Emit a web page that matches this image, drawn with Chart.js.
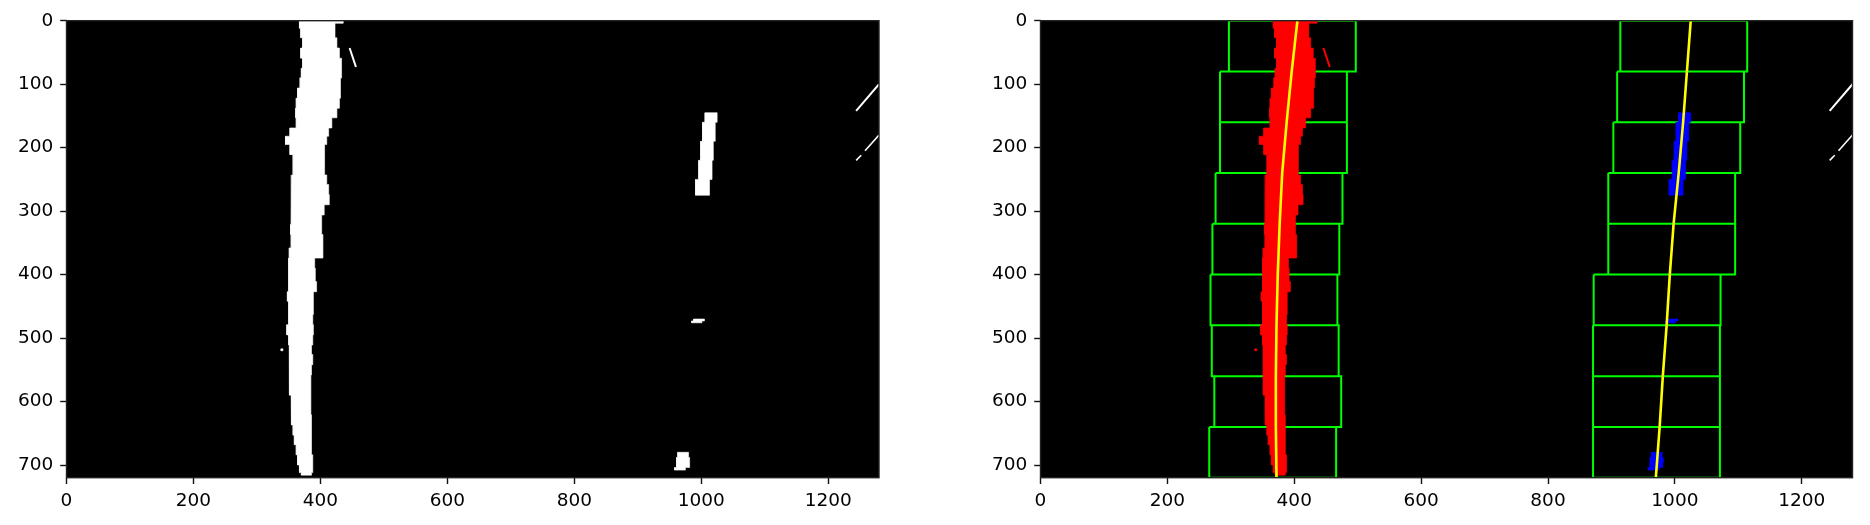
<!DOCTYPE html>
<html><head><meta charset="utf-8">
<script src="https://cdn.jsdelivr.net/npm/chart.js@4.4.1/dist/chart.umd.min.js"></script>
<style>
html,body{margin:0;padding:0;background:#fff;width:1870px;height:525px;overflow:hidden;}
canvas{position:absolute;top:0;}
#c1{left:0;} #c2{left:974px;}
</style></head><body>
<canvas id="c1" width="900" height="525"></canvas>
<canvas id="c2" width="896" height="525"></canvas>
<script>
// ---- tick labels ----
const xTickValues = [0, 200, 400, 600, 800, 1000, 1200];
const yTickValues = [0, 100, 200, 300, 400, 500, 600, 700];

// ---- left lane pixels: row bands (y boundaries) with left / right edge x ----
const laneBandY = [0,4,12,27,43,59,75,90,106,122,138,153,169,182,195,211,227,243,258,274,290,306,321,337,358,374,390,411,427,442,463,479,495,511,526,542,558,574,590,605,621,637,653,668,684,700,712,716];
const laneLeftX = [367,367,369,372,369,372,370,368,364,362,361,362,352,345,352,357,357,355,354,354,354,354,353,354,351,350,350,350,348,350,350,347,350,351,351,351,351,352,354,354,355,357,359,362,364,367,370];
const laneRightX = [436,423,423,426,430,433,434,432,431,430,426,418,413,410,407,406,407,410,413,414,406,402,402,404,404,391,392,394,389,389,388,389,388,386,388,386,385,385,385,385,386,386,386,386,388,388,386];
const dotBandY = [517, 520];
const dotLeftX = [338];
const dotRightX = [341];
// short stroke right of the left lane
const strokeX = [446, 456];
const strokeY = [43, 73];

// ---- right lane pixels ----
const dashBandY = [145, 160, 190, 220, 250, 275];
const dashLeftX = [1006, 1002, 999, 996, 991];
const dashRightX = [1025, 1022, 1019, 1017, 1013];
const markBandY = [470, 473, 476];
const markLeftX = [988, 985];
const markRightX = [1005, 1001];
const footBandY = [680, 688, 696, 704, 708];
const footLeftX = [963, 961, 961, 958];
const footRightX = [980, 982, 981, 975];

// ---- stray streaks at the right edge ----
const streak1X = [1244, 1280];
const streak1Y = [142, 100];
const streak2X = [1244, 1252];
const streak2Y = [220, 212];
const streak3X = [1258, 1280];
const streak3Y = [205, 180];

// ---- sliding windows (top y of each window, lower x edge) ----
const windowTopY = [640, 560, 480, 400, 320, 240, 160, 80, 0];
const windowHeight = 80;
const windowMargin = 100;
const leftWindowLowX = [266, 274, 270, 268, 271, 276, 283, 283, 297];
const rightWindowLowX = [871, 871, 871, 872, 895, 895, 903, 909, 914];

// ---- polynomial fit lines (read at these y) ----
const fitY = [0, 80, 160, 240, 320, 400, 480, 560, 640, 720];
const leftFitX = [405, 396, 388, 381, 377, 374, 372, 371, 371, 372];
const rightFitX = [1025, 1019, 1013, 1006, 998, 992, 987, 981, 976, 970];

// ---------- builders ----------
function bandOutline(ys, ls, rs) {
  const pts = [];
  for (let i = 0; i < ls.length; i++) { pts.push({x: ls[i], y: ys[i]}, {x: ls[i], y: ys[i + 1]}); }
  for (let i = rs.length - 1; i >= 0; i--) { pts.push({x: rs[i], y: ys[i + 1]}, {x: rs[i], y: ys[i]}); }
  pts.push({x: ls[0], y: ys[0]});
  return pts;
}
function zipPts(xs, ys) { return xs.map((x, i) => ({x, y: ys[i]})); }
function windowPts(lows) {
  const pts = [];
  lows.forEach((lo, i) => {
    const hi = lo + 2 * windowMargin, t = windowTopY[i], b = t + windowHeight;
    pts.push({x: lo, y: t}, {x: hi, y: t}, {x: hi, y: b}, {x: lo, y: b}, {x: lo, y: t}, {x: null, y: null});
  });
  return pts;
}
function blob(pts, color, order) {
  return {data: pts, fill: 'shape', backgroundColor: color, borderColor: color, borderWidth: 0.6, pointRadius: 0, tension: 0, order};
}
function stroke(pts, color, w, order) {
  return {data: pts, fill: false, borderColor: color, borderWidth: w, pointRadius: 0, tension: 0, order};
}

const framePlugin = {
  id: 'frame',
  beforeDatasetsDraw(chart) {
    const a = chart.chartArea, ctx = chart.ctx;
    ctx.save(); ctx.fillStyle = '#000'; ctx.fillRect(a.left, a.top, a.right - a.left, a.bottom - a.top); ctx.restore();
  },
  afterDatasetsDraw(chart) {
    const a = chart.chartArea, ctx = chart.ctx;
    ctx.save(); ctx.strokeStyle = '#222'; ctx.lineWidth = 1.4;
    ctx.strokeRect(a.left, a.top, a.right - a.left, a.bottom - a.top); ctx.restore();
  }
};

function makeChart(id, datasets, rightPad) {
  const tickFont = {family: 'DejaVu Sans', size: 18.5};
  const grid = {display: true, drawOnChartArea: false, drawTicks: true, tickLength: 6.3, tickWidth: 1.4, tickColor: '#111'};
  const plain = v => String(v);
  return new Chart(document.getElementById(id), {
    type: 'line',
    data: {datasets},
    options: {
      responsive: false, animation: false, devicePixelRatio: 1,
      layout: {padding: {top: 20.7, right: rightPad, bottom: 0, left: 0}},
      plugins: {legend: {display: false}, tooltip: {enabled: false}},
      scales: {
        x: {type: 'linear', min: 0, max: 1280,
            afterBuildTicks: s => { s.ticks = xTickValues.map(v => ({value: v})); },
            afterFit: s => { s.height = 47.3; },
            grid, border: {display: false},
            ticks: {color: '#000', font: tickFont, padding: 6, autoSkip: false, maxRotation: 0, callback: plain}},
        y: {type: 'linear', reverse: true, min: 0, max: 720,
            afterBuildTicks: s => { s.ticks = yTickValues.map(v => ({value: v})); },
            afterFit: s => { s.width = 66.5; },
            grid, border: {display: false},
            ticks: {color: '#000', font: tickFont, padding: 7, autoSkip: false, callback: plain}}
      }
    },
    plugins: [framePlugin]
  });
}

const streaks = (c) => [
  stroke(zipPts(streak1X, streak1Y), c, 2, 5),
  stroke(zipPts(streak2X, streak2Y), c, 1.6, 5),
  stroke(zipPts(streak3X, streak3Y), c, 1.6, 5)
];

// left panel: binary image
makeChart('c1', [
  blob(bandOutline(laneBandY, laneLeftX, laneRightX), '#ffffff', 2),
  blob(bandOutline(dotBandY, dotLeftX, dotRightX), '#ffffff', 2),
  stroke(zipPts(strokeX, strokeY), '#ffffff', 2, 2),
  blob(bandOutline(dashBandY, dashLeftX, dashRightX), '#ffffff', 2),
  blob(bandOutline(markBandY, markLeftX, markRightX), '#ffffff', 2),
  blob(bandOutline(footBandY, footLeftX, footRightX), '#ffffff', 2),
  ...streaks('#ffffff')
], 21);

// right panel: windows, coloured lane pixels, fits
makeChart('c2', [
  stroke(zipPts(leftFitX, fitY), '#ffff00', 2.6, 0),
  stroke(zipPts(rightFitX, fitY), '#ffff00', 2.6, 0),
  blob(bandOutline(laneBandY, laneLeftX, laneRightX), '#ff0000', 2),
  blob(bandOutline(dotBandY, dotLeftX, dotRightX), '#ff0000', 2),
  stroke(zipPts(strokeX, strokeY), '#ff0000', 2, 2),
  blob(bandOutline(dashBandY, dashLeftX, dashRightX), '#0000ff', 2),
  blob(bandOutline(markBandY, markLeftX, markRightX), '#0000ff', 2),
  blob(bandOutline(footBandY, footLeftX, footRightX), '#0000ff', 2),
  Object.assign(stroke(windowPts(leftWindowLowX), '#00ff00', 2, 3), {spanGaps: false}),
  Object.assign(stroke(windowPts(rightWindowLowX), '#00ff00', 2, 3), {spanGaps: false}),
  ...streaks('#ffffff')
], 17.5);
</script>
</body></html>
